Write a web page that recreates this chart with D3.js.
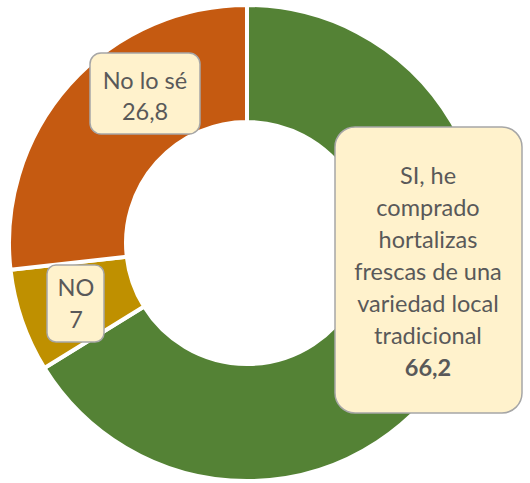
<!DOCTYPE html>
<html>
<head>
<meta charset="utf-8">
<script src="https://cdn.jsdelivr.net/npm/d3@7"></script>
<style>
  html, body { margin: 0; padding: 0; background: #fff; }
  svg { display: block; }
</style>
</head>
<body>
<svg id="chart" width="530" height="483"></svg>
<script>
// Survey answers, in the order they are drawn clockwise from 12 o'clock
const categories = [
  "SI, he comprado hortalizas frescas de una variedad local tradicional",
  "NO",
  "No lo sé"
];
const values = [66.2, 7, 26.8];
const valueLabels = ["66,2", "7", "26,8"];
const colors = ["#548235", "#BF9000", "#C55A11"];

const svg = d3.select("#chart");
const cx = 247, cy = 243;
const outerR = 238, innerR = 121;

const pie = d3.pie().sort(null).value(d => d.value);
const arc = d3.arc().innerRadius(innerR).outerRadius(outerR);

const data = categories.map((c, i) => ({ name: c, value: values[i], label: valueLabels[i], color: colors[i] }));
const arcs = pie(data);

const g = svg.append("g").attr("transform", `translate(${cx},${cy})`);

g.selectAll("path.slice")
  .data(arcs)
  .join("path")
  .attr("class", "slice")
  .attr("d", arc)
  .attr("fill", d => d.data.color)
  .attr("stroke", "#fff")
  .attr("stroke-width", 4)
  .attr("stroke-linejoin", "miter");

// Data label callouts: box placement per slice, text lines, bold value
const labelFont = "Lato, 'Open Sans', sans-serif";
const callouts = [
  { box: [335, 127, 187, 286], r: 20, cx: 428,
    lines: ["SI, he", "comprado", "hortalizas", "frescas de una", "variedad local", "tradicional"],
    y0: 184, dy: 32, boldValue: true },
  { box: [47, 265, 57, 77], r: 9, cx: 76,
    lines: ["NO"], y0: 296, dy: 32, boldValue: false },
  { box: [90, 53, 110, 81], r: 11, cx: 145,
    lines: ["No lo sé"], y0: 89, dy: 31, boldValue: false }
];

arcs.forEach((a, i) => {
  const c = callouts[i];
  const lg = svg.append("g").attr("class", "callout");
  lg.append("rect")
    .attr("x", c.box[0]).attr("y", c.box[1])
    .attr("width", c.box[2]).attr("height", c.box[3])
    .attr("rx", c.r).attr("ry", c.r)
    .attr("fill", "#FFF2CC")
    .attr("stroke", "#A6A6A6")
    .attr("stroke-width", 1.5);
  const allLines = c.lines.concat([a.data.label]);
  lg.selectAll("text")
    .data(allLines)
    .join("text")
    .attr("x", c.cx)
    .attr("y", (d, j) => c.y0 + j * c.dy)
    .attr("text-anchor", "middle")
    .attr("font-family", labelFont)
    .attr("font-size", 23.5)
    .attr("font-weight", (d, j) => (j === allLines.length - 1 && c.boldValue) ? "bold" : "normal")
    .attr("fill", "#595959")
    .text(d => d);
});
</script>
</body>
</html>
